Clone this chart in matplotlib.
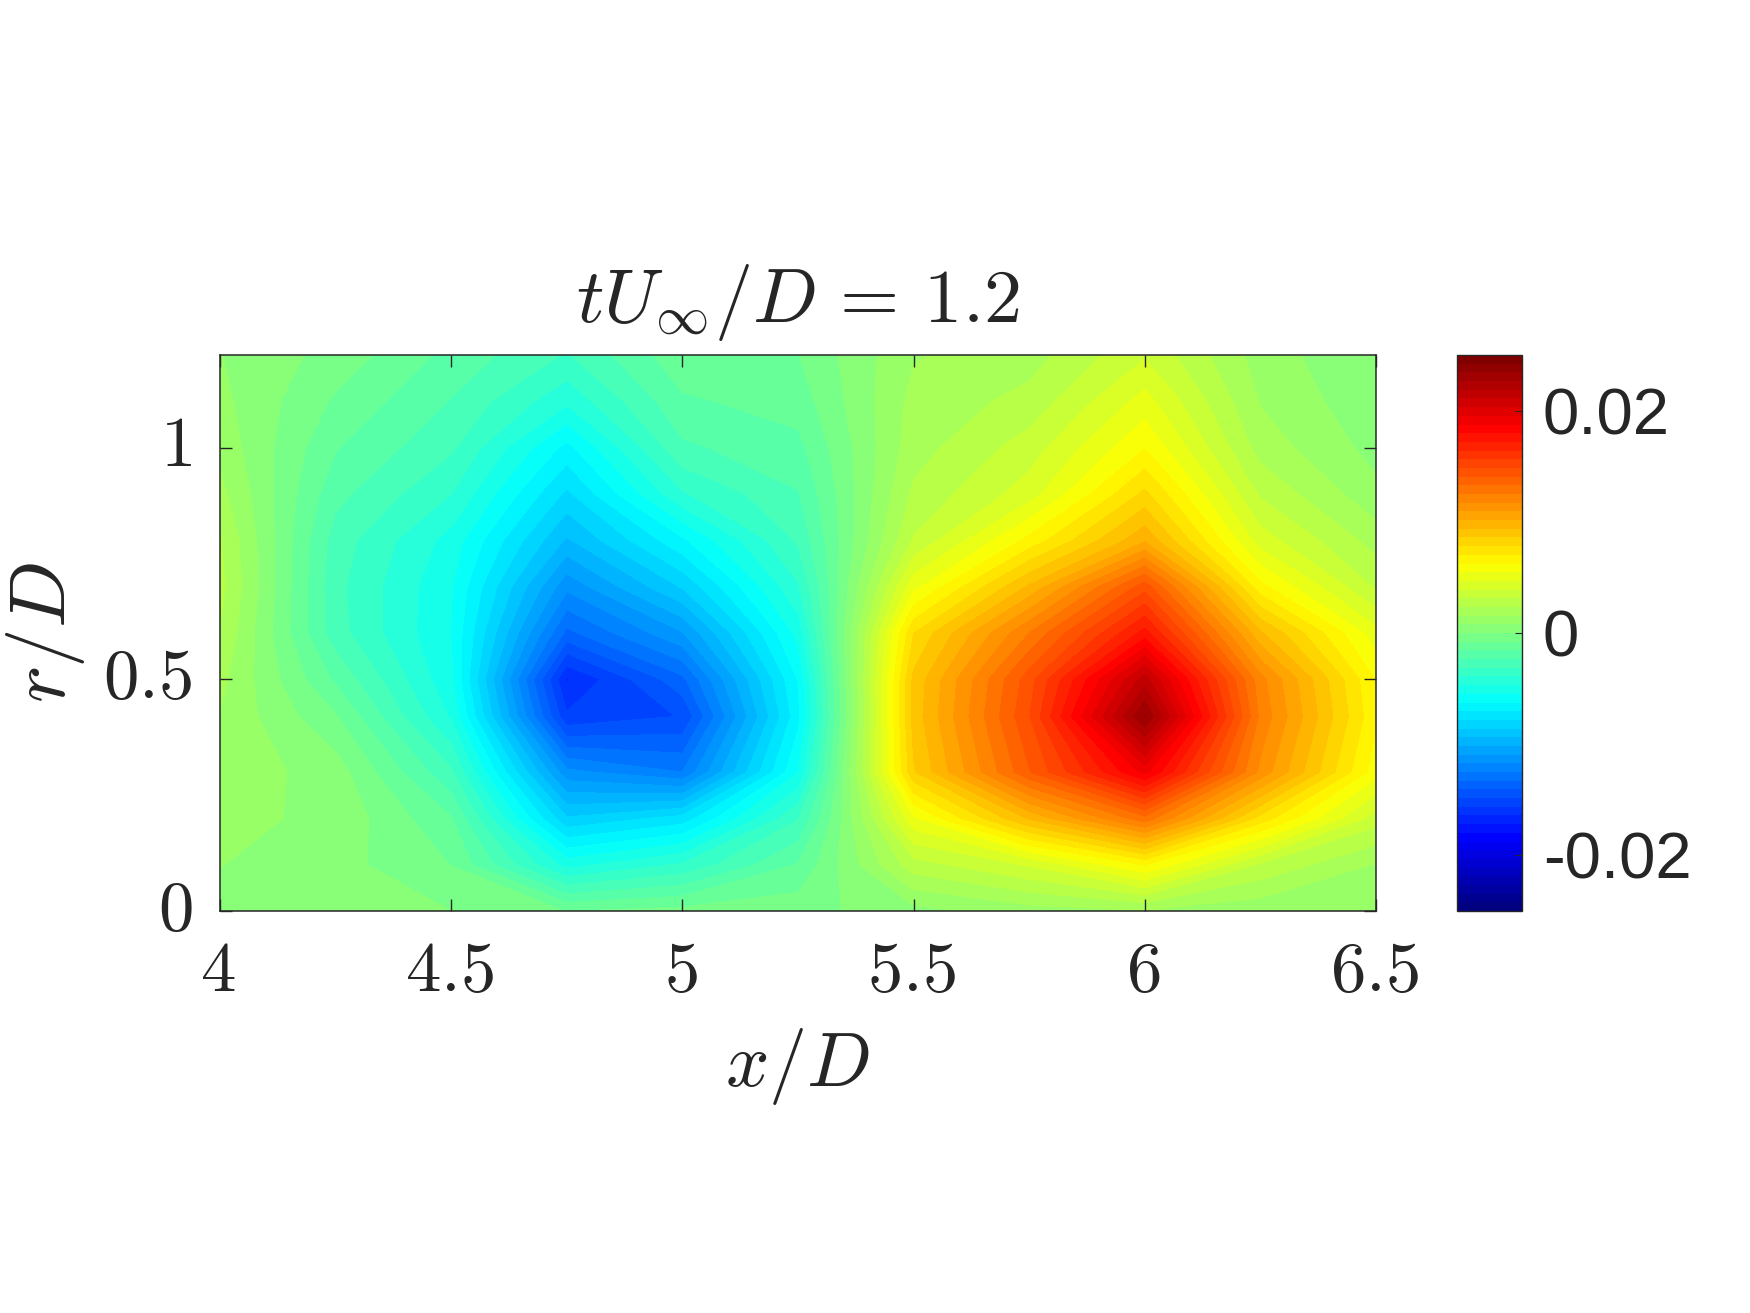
import numpy as np
import matplotlib
matplotlib.use("Agg")
import matplotlib.pyplot as plt
from matplotlib.colors import LinearSegmentedColormap
from matplotlib.transforms import ScaledTranslation

x_nodes = [4.0, 4.25, 4.5, 4.75, 5.0, 5.25, 5.5, 5.75, 6.0, 6.25, 6.5]
r_nodes = [0.0, 0.1, 0.2, 0.3, 0.42, 0.5, 0.6, 0.7, 0.8, 0.9, 1.0, 1.1, 1.2]

# values x 1e-3, one list per x position, bottom to top
c_400 = [0.5, 0.8, 1.0, 1.3, 1.5, 1.8, 2.3, 2.6, 2.4, 1.8, 1.3, 1.0, 0.8]
c_425 = [0.2, 0.3, 0.6, 0.4, -0.7, -1.7, -2.8, -2.9, -2.7, -2.1, -1.5, -0.9, -0.3]
c_450 = [0.0, -0.8, -1.5, -3.0, -4.8, -5.3, -5.5, -5.4, -5.0, -3.9, -3.0, -2.4, -1.8]
c_475 = [-0.8, -5.0, -8.5, -11.5, -15.5, -16.5, -13.5, -11.5, -9.5, -8.0, -6.5, -4.5, -3.2]
c_500 = [-0.5, -3.8, -7.5, -12.5, -14.8, -13.5, -11.0, -8.5, -6.4, -4.0, -2.5, -1.7, -1.0]
c_525 = [-0.3, -1.5, -3.2, -5.5, -6.5, -6.2, -5.2, -4.0, -3.0, -2.4, -1.8, -1.2, -0.8]
c_550 = [0.5, 2.8, 5.3, 8.5, 8.9, 8.8, 7.8, 5.2, 3.2, 2.5, 2.0, 1.8, 1.5]
c_575 = [1.2, 4.0, 9.5, 14.0, 14.8, 14.5, 12.5, 9.5, 6.5, 4.3, 3.5, 2.6, 2.0]
c_600 = [1.5, 6.3, 13.0, 19.0, 23.5, 21.5, 17.5, 14.5, 10.0, 8.0, 6.2, 5.0, 3.8]
c_625 = [1.0, 3.0, 7.5, 11.5, 12.3, 12.0, 9.5, 6.5, 4.3, 3.0, 2.0, 1.5, 1.2]
c_650 = [0.8, 1.5, 3.5, 5.8, 6.4, 6.2, 5.0, 3.0, 2.0, 1.0, 0.5, 0.2, 0.0]
columns = [c_400, c_425, c_450, c_475, c_500, c_525, c_550, c_575, c_600, c_625, c_650]

x_ticks = [4, 4.5, 5, 5.5, 6, 6.5]
x_tick_labels = ["$4$", "$4.5$", "$5$", "$5.5$", "$6$", "$6.5$"]
r_ticks = [0, 0.5, 1]
r_tick_labels = ["$0$", "$0.5$", "$1$"]
cbar_ticks = [-0.02, 0, 0.02]
cbar_tick_labels = ["-0.02", "0", "0.02"]

W, H = 1750, 1313
plt.rcParams["mathtext.fontset"] = "cm"
plt.rcParams["font.family"] = ["Liberation Sans", "DejaVu Sans"]
DARK = "#262626"

def box(l, t, r, b):
    return [l / W, 1 - b / H, (r - l) / W, (b - t) / H]

jet64 = LinearSegmentedColormap.from_list(
    "matlab_jet",
    [(0, (0, 0, 0.5)), (0.125, (0, 0, 1)), (0.375, (0, 1, 1)),
     (0.625, (1, 1, 0)), (0.875, (1, 0, 0)), (1, (0.5, 0, 0))], N=64)

fig = plt.figure(figsize=(W / 100, H / 100), dpi=100, facecolor="white")
ax = fig.add_axes(box(220, 355, 1376, 911))

Z = np.array(columns).T * 1e-3
levels = np.linspace(-0.025, 0.025, 65)
cs = ax.contourf(x_nodes, r_nodes, Z, levels=levels, cmap=jet64,
                 vmin=-0.025, vmax=0.025)

ax.set_xlim(4, 6.5)
ax.set_ylim(0, 1.2)
ax.set_xticks(x_ticks, x_tick_labels)
ax.set_yticks(r_ticks, r_tick_labels)
ax.tick_params(direction="in", length=8.5, width=1.0, top=True, right=True,
               labelsize=51, colors=DARK)
ax.tick_params(axis="x", pad=21)
ax.tick_params(axis="y", pad=20)
xshift = ScaledTranslation(-2 / 100, 0, fig.dpi_scale_trans)
yshift = ScaledTranslation(0, 7 / 100, fig.dpi_scale_trans)
for t in ax.get_xticklabels():
    t.set_transform(t.get_transform() + xshift)
for t in ax.get_yticklabels():
    t.set_transform(t.get_transform() + yshift)
for s in ax.spines.values():
    s.set_linewidth(1.1)
    s.set_color(DARK)
ax.set_xlabel(r"$x/D$", fontsize=55, color=DARK, labelpad=14)
ax.set_ylabel(r"$r/D$", fontsize=57, color=DARK, labelpad=12)
ax.set_title(r"$tU_{\infty}/D\,=\,1.2$", fontsize=55, color=DARK, pad=24)

cax = fig.add_axes(box(1457, 355, 1522, 911))
cb = fig.colorbar(cs, cax=cax, spacing="proportional")
cax.set_ylim(-0.025, 0.025)
cb.set_ticks(cbar_ticks, labels=cbar_tick_labels)
cax.tick_params(direction="in", length=5, width=0.8, labelsize=47, colors=DARK, pad=15)
cb.outline.set_linewidth(1.0)
cb.outline.set_edgecolor(DARK)

fig.savefig("out.png", dpi=100, facecolor="white")
